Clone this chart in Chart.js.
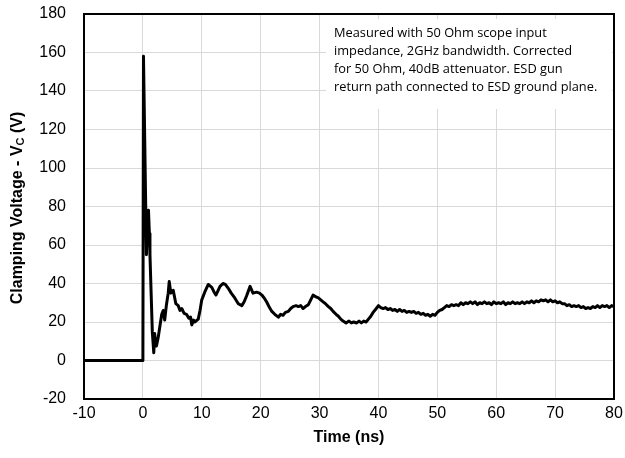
<!DOCTYPE html>
<html>
<head>
<meta charset="utf-8">
<script src="https://cdn.jsdelivr.net/npm/chart.js@4.4.1/dist/chart.umd.min.js"></script>
<style>
  html, body { margin: 0; padding: 0; background: #fff; }
</style>
</head>
<body>
<canvas id="esdChart" width="625" height="458"></canvas>
<script>
// time (ns)
const timeNs = [
  -10, 0, 0.1, 0.6, 0.75, 0.95, 1.1, 1.2, 1.4, 1.6,
  1.85, 2.0, 2.15, 2.3, 2.6, 2.9, 3.2, 3.45, 3.7, 4.0,
  4.3, 4.47, 4.75, 5.15, 5.6, 6.0, 6.3, 6.6, 7.0, 7.4,
  7.8, 8.1, 8.3, 8.6, 8.8, 9.4, 9.7, 10.0, 10.5, 11.1,
  11.7, 12.1, 12.4, 13.1, 13.6, 14.0, 14.5, 15.0, 15.6, 16.2,
  16.8, 17.2, 17.6, 18.2, 18.7, 19.3, 19.8, 20.2, 20.6, 21.0,
  21.5, 21.9, 22.4, 23.0, 23.4, 23.8, 24.2, 24.7, 25.1, 25.5,
  26.0, 26.4, 26.8, 27.2, 27.6, 28.1, 28.5, 28.9, 29.4, 29.8,
  30.2, 30.6, 31.0, 31.5, 31.9, 32.3, 32.8, 33.2, 33.6, 34.0,
  34.5, 35.0, 35.4, 35.8, 36.3, 36.7, 37.1, 37.5, 37.9, 38.3,
  38.7, 39.1, 39.5, 40.0,
  40.4, 40.8, 41.2, 41.6, 42.0, 42.4, 42.8, 43.2, 43.6, 44.0,
  44.4, 44.8, 45.2, 45.6, 46.0, 46.4, 46.8, 47.2, 47.6, 48.0,
  48.4, 48.8, 49.2, 49.6, 50.0, 50.4, 50.8, 51.2, 51.6, 52.0,
  52.4, 52.8, 53.2, 53.6, 54.0, 54.4, 54.8, 55.2, 55.6, 56.0,
  56.4, 56.8, 57.2, 57.6, 58.0, 58.4, 58.8, 59.2, 59.6, 60.0,
  60.4, 60.8, 61.2, 61.6, 62.0, 62.4, 62.8, 63.2, 63.6, 64.0,
  64.4, 64.8, 65.2, 65.6, 66.0, 66.4, 66.8, 67.2, 67.6, 68.0,
  68.4, 68.8, 69.2, 69.6, 70.0, 70.4, 70.8, 71.2, 71.6, 72.0,
  72.4, 72.8, 73.2, 73.6, 74.0, 74.4, 74.8, 75.2, 75.6, 76.0,
  76.4, 76.8, 77.2, 77.6, 78.0, 78.4, 78.8, 79.2, 79.6, 80.0
];

// clamping voltage (V)
const clampV = [
  0, 0, 158, 55, 70, 78, 66, 55, 35, 15,
  4, 14, 9, 7.5, 12, 18, 24, 26, 21, 29,
  35, 41, 35, 36.5, 29.5, 28.5, 26, 27, 24.5, 24,
  22, 22.5, 18.5, 21, 20, 21.5, 26, 31.5, 35.5, 39.5,
  38, 35.5, 34, 38.5, 40, 39.5, 37.5, 35, 32.5, 29.5,
  28.5, 30.5, 33.5, 38.5, 35, 35.5, 35, 34, 32.5, 30.5,
  27.5, 25.5, 24, 22.5, 24, 23.5, 25, 25.5, 27, 28,
  28.5, 28, 28.5, 27, 28, 29, 31.5, 34, 33, 32.5,
  31.5, 30.5, 29.5, 28, 27, 25.5, 24, 23, 21.5, 20.5,
  19.5, 20.5, 19.5, 20, 19.5, 20.5, 19.5, 20.5, 20, 21.5,
  23, 25, 26.5, 28.5,
  27.5, 27, 27.5, 26.5, 27, 26, 26.5, 25.5, 26.5, 25.5,
  26, 25, 25.5, 25, 25.5, 24.5, 25, 24, 24.5, 23.5,
  24, 23, 24, 23.5, 25, 26, 26.5, 27.5, 28.5, 28,
  29, 28.5, 29, 28.5, 30, 29, 30, 29.5, 30.5, 29.5,
  30.5, 29, 30, 29.5, 30.5, 29.5, 30, 29, 30.5, 29.5,
  30, 29.5, 30.5, 29, 30, 29.5, 30.5, 29.5, 30, 29.5,
  30.5, 29.5, 30.5, 30, 31, 30, 31, 30.5, 31.5, 31,
  31.5, 30.5, 31.5, 30.5, 31, 30, 30.5, 29.5, 29.5, 28.5,
  29, 28, 28.5, 28, 28.5, 27.5, 28, 27, 27.5, 27,
  28, 27.5, 28.5, 27.5, 28.5, 28, 28.5, 27.5, 28.5, 28
];

const xTicks = [-10, 0, 10, 20, 30, 40, 50, 60, 70, 80];
const yTicks = [-20, 0, 20, 40, 60, 80, 100, 120, 140, 160, 180];

const noteLines = [
  'Measured with 50 Ohm scope input',
  'impedance, 2GHz bandwidth. Corrected',
  'for 50 Ohm, 40dB attenuator. ESD gun',
  'return path connected to ESD ground plane.'
];

const points = timeNs.map((t, i) => ({ x: t, y: clampV[i] }));

const axisFont = '"Liberation Sans", Arial';

// plot border, note box and the y title (with subscript C)
const extras = {
  id: 'extras',
  afterDraw(chart) {
    const { ctx, chartArea: a } = chart;
    ctx.save();

    // note box
    ctx.fillStyle = '#fff';
    ctx.fillRect(326, 19, 286, 90);
    ctx.fillStyle = '#000';
    ctx.font = '12.8px "Open Sans"';
    ctx.textBaseline = 'middle';
    ctx.textAlign = 'left';
    noteLines.forEach((s, i) => ctx.fillText(s, 334, 33 + i * 18));

    // frame
    ctx.strokeStyle = '#000';
    ctx.lineWidth = 2;
    ctx.strokeRect(a.left, a.top, a.right - a.left, a.bottom - a.top);

    // y title
    const big = 'bold 16px ' + axisFont;
    const small = 'bold 11px ' + axisFont;
    const p1 = 'Clamping Voltage - V', p2 = 'C', p3 = ' (V)';
    ctx.font = big;
    const w1 = ctx.measureText(p1).width, w3 = ctx.measureText(p3).width;
    ctx.font = small;
    const w2 = ctx.measureText(p2).width;
    const total = w1 + w2 + w3;
    ctx.translate(18, 208);
    ctx.rotate(-Math.PI / 2);
    let x = -total / 2;
    ctx.font = big;
    ctx.fillText(p1, x, 0);
    x += w1;
    ctx.font = small;
    ctx.fillText(p2, x, 3);
    x += w2;
    ctx.font = big;
    ctx.fillText(p3, x, 0);
    ctx.restore();
  }
};

new Chart(document.getElementById('esdChart'), {
  type: 'line',
  data: {
    datasets: [{
      data: points,
      borderColor: '#000',
      borderWidth: 3,
      borderJoinStyle: 'round',
      borderCapStyle: 'round',
      pointRadius: 0,
      tension: 0,
      fill: false
    }]
  },
  options: {
    responsive: false,
    animation: false,
    layout: { padding: { top: 14, right: 11, left: 0, bottom: 0 } },
    plugins: { legend: { display: false }, tooltip: { enabled: false } },
    scales: {
      x: {
        type: 'linear',
        min: -10,
        max: 80,
        afterBuildTicks: s => { s.ticks = xTicks.map(v => ({ value: v })); },
        afterFit: s => { s.height = 59; s.paddingLeft = 0; s.paddingRight = 0; },
        grid: { color: '#d9d9d9', drawTicks: false },
        border: { display: false },
        ticks: {
          padding: 5,
          color: '#000',
          font: { family: axisFont, size: 16 }
        },
        title: {
          display: true,
          text: 'Time (ns)',
          color: '#000',
          padding: { top: 0, bottom: 11 },
          font: { family: axisFont, size: 16, weight: 'bold' }
        }
      },
      y: {
        min: -20,
        max: 180,
        afterBuildTicks: s => { s.ticks = yTicks.map(v => ({ value: v })); },
        afterFit: s => { s.width = 84; s.paddingTop = 0; s.paddingBottom = 0; },
        grid: { color: '#d9d9d9', drawTicks: false },
        border: { display: false },
        ticks: {
          padding: 18,
          color: '#000',
          font: { family: axisFont, size: 16 }
        }
      }
    }
  },
  plugins: [extras]
});
</script>
</body>
</html>
